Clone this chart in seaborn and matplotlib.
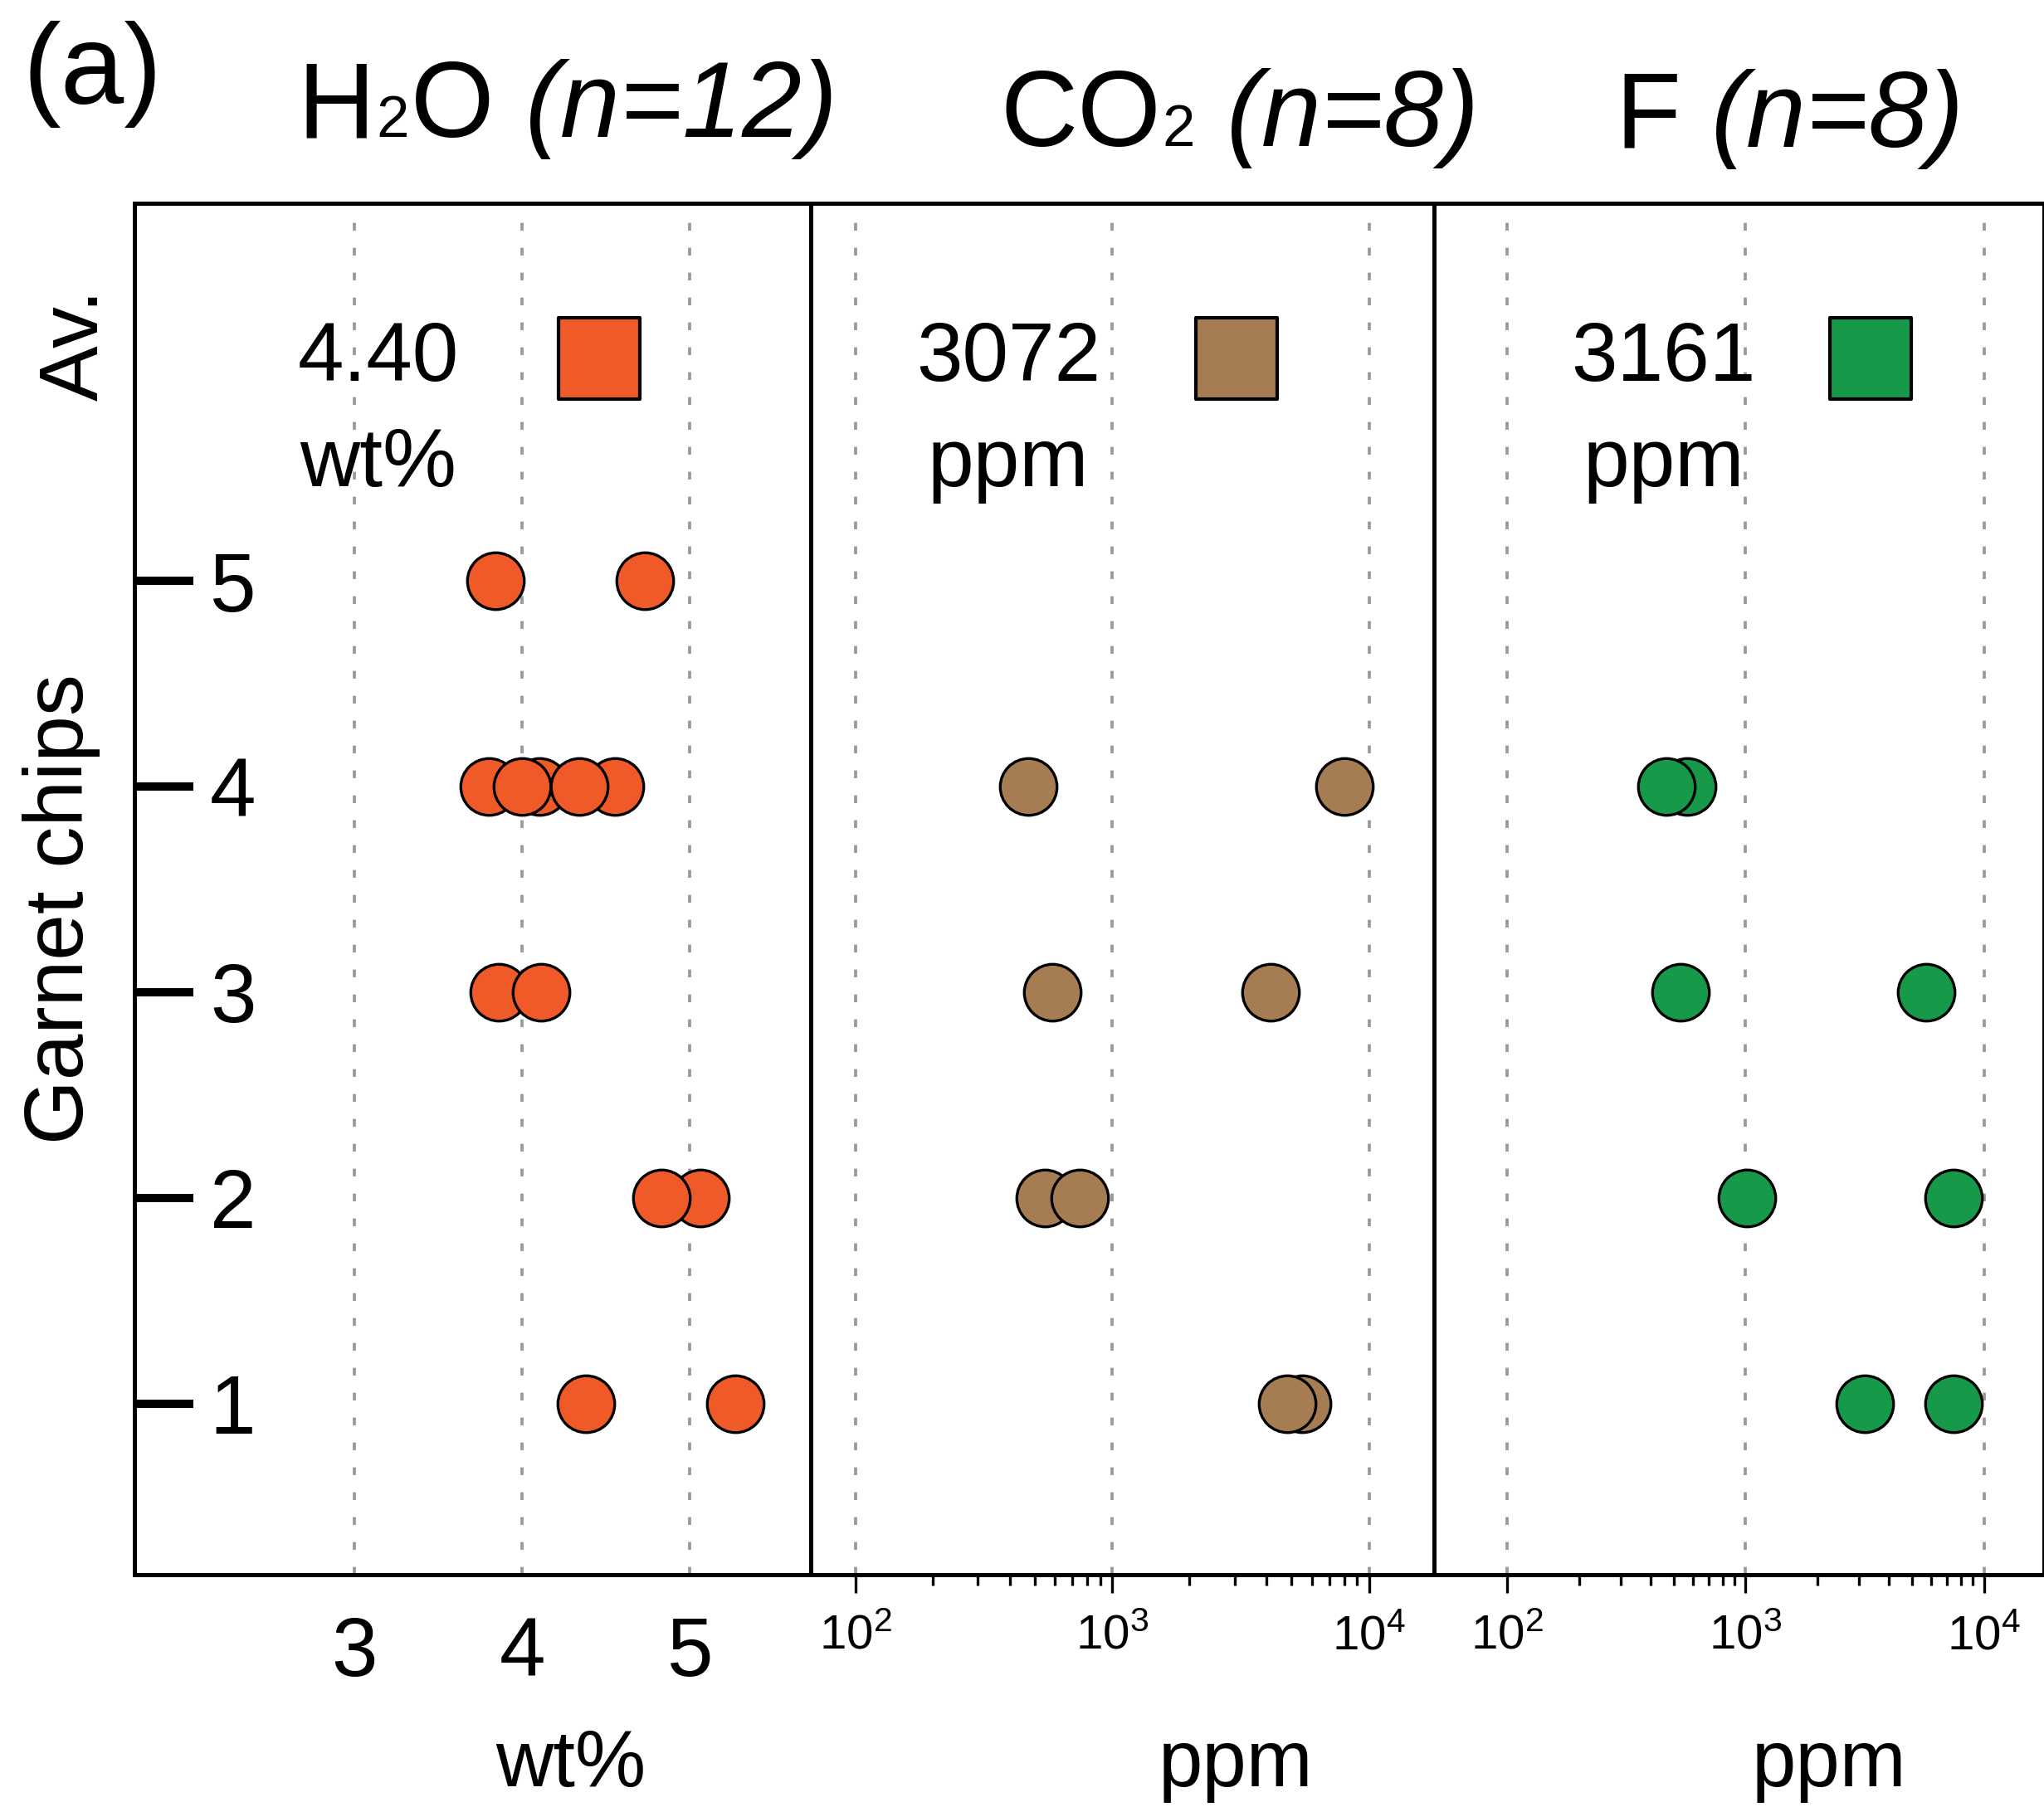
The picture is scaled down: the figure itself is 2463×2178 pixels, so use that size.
import numpy as np
import pandas as pd
import matplotlib
matplotlib.use('Agg')
import matplotlib.pyplot as plt
import seaborn as sns
from matplotlib.ticker import NullFormatter

# Datos: chip de granate y concentracion de cada analisis
h2o_chip = [5, 5, 4, 4, 4, 4, 4, 3, 3, 2, 2, 1, 1]
h2o_wt = [3.84, 4.73, 3.80, 4.10, 4.55, 4.00, 4.34, 3.86, 4.11, 5.06, 4.83, 4.38, 5.27]

co2_chip = [4, 4, 3, 3, 2, 2, 1, 1]
co2_ppm = [471, 8050, 585, 4150, 548, 748, 5505, 4786]

f_chip = [4, 4, 3, 3, 2, 2, 1, 1]
f_ppm = [568, 464, 532, 5700, 1016, 7430, 3162, 7430]

# Fila "Av.": texto del promedio y posicion del cuadrado tal como aparece
promedio_txt = ['4.40', '3072', '3161']
promedio_x = [4.46, 3048, 3357]
unidades = ['wt%', 'ppm', 'ppm']

# Titulos: parte normal, subindice, resto, parte en italica
esp_base = ['H', 'CO', 'F']
esp_sub = ['2', '2', '']
esp_fin = ['O', '', '']
n_txt = ['(n=12)', '(n=8)', '(n=8)']

colores = ['#F05A28', '#A67C52', '#17994A']
chips = [1, 2, 3, 4, 5]
chip_txt = ['1', '2', '3', '4', '5']

log_major = [1e2, 1e3, 1e4]
log_major_txt = [r'$\mathdefault{10^{2}}$', r'$\mathdefault{10^{3}}$', r'$\mathdefault{10^{4}}$']

# Estilo
sns.set_style('white')
plt.rcParams['font.family'] = ['Liberation Sans', 'DejaVu Sans']
plt.rcParams['mathtext.fontset'] = 'custom'
plt.rcParams['mathtext.rm'] = 'Liberation Sans'
plt.rcParams['mathtext.it'] = 'Liberation Sans:italic'
plt.rcParams['mathtext.bf'] = 'Liberation Sans:bold'
plt.rcParams['mathtext.default'] = 'regular'
for k in ['text.color', 'axes.labelcolor', 'xtick.color', 'ytick.color', 'axes.edgecolor']:
    plt.rcParams[k] = 'black'

W, H = 2463, 2178
fig = plt.figure(figsize=(W / 300, H / 300), dpi=300)

AV_Y = 6.08
ylim = (0.169, 6.835)
bottom = 1 - 1898 / H
height = (1898 - 245) / H
paneles = [(162, 977), (977, 1728), (1728, 2463)]
xlims = [(1.688, 5.72), (10 ** 1.8268, 10 ** 4.2533), (10 ** 1.693, 10 ** 4.252)]
datos = [(h2o_wt, h2o_chip), (co2_ppm, co2_chip), (f_ppm, f_chip)]
desplaz_txt = [-64, -66, -60]

minor_log = [m * 10 ** e for e in (2, 3) for m in range(2, 10)]

axes = []
for i, (x0, x1) in enumerate(paneles):
    ax = fig.add_axes([x0 / W, bottom, (x1 - x0) / W, height])
    axes.append(ax)
    vals, filas = datos[i]
    df = pd.DataFrame({'valor': vals, 'chip': filas})

    if i > 0:
        ax.set_xscale('log')

    sns.scatterplot(data=df, x='valor', y='chip', ax=ax, color=colores[i],
                    s=270, edgecolor='black', linewidth=0.8, legend=False, zorder=3)
    sns.scatterplot(x=[promedio_x[i]], y=[AV_Y], ax=ax, marker='s', color=colores[i],
                    s=560, edgecolor='black', linewidth=1.0, legend=False, zorder=3)

    ax.set_xlim(*xlims[i])
    ax.set_ylim(*ylim)
    ax.set_xlabel('')
    ax.set_ylabel('')
    ax.set_axisbelow(True)

    # Texto del promedio
    ax.annotate(promedio_txt[i], xy=(promedio_x[i], AV_Y), xytext=(desplaz_txt[i], -6.5),
                textcoords='offset points', ha='center', va='baseline', fontsize=24)
    ax.annotate(unidades[i], xy=(promedio_x[i], AV_Y), xytext=(desplaz_txt[i], -37),
                textcoords='offset points', ha='center', va='baseline', fontsize=24)

    if i == 0:
        ax.set_xticks([3, 4, 5])
        ax.tick_params(axis='x', length=0, labelsize=24, pad=11.8)
        ax.set_yticks(chips, chip_txt)
        ax.tick_params(axis='y', left=True, direction='in', length=17, width=2.4,
                       labelsize=24, pad=-21.8)
        for lab in ax.get_yticklabels():
            lab.set_horizontalalignment('left')
    else:
        ax.set_xticks(log_major, log_major_txt)
        ax.set_xticks(minor_log, minor=True)
        ax.xaxis.set_minor_formatter(NullFormatter())
        ax.tick_params(axis='x', which='major', bottom=True, direction='out',
                       length=5.3, width=0.8, labelsize=14, pad=6)
        ax.tick_params(axis='x', which='minor', bottom=True, direction='out',
                       length=3, width=0.8)
        ax.set_yticks([])

    ax.grid(axis='x', which='major', color='#999999', linewidth=0.9,
            linestyle=(0, (2.5, 5.5)))
    ax.grid(axis='y', visible=False)

    for lado, sp in ax.spines.items():
        sp.set_color('black')
        sp.set_linewidth(1.2)
    if i < 2:
        ax.spines['right'].set_visible(False)


def texto_en_cadena(x, y, piezas):
    # piezas: (texto, tamano, estilo, separacion en puntos)
    prev = fig.text(x, y, piezas[0][0], fontsize=piezas[0][1], fontstyle=piezas[0][2],
                    ha='left', va='baseline')
    for txt, size, estilo, sep in piezas[1:]:
        if not txt:
            continue
        prev = axes[0].annotate(txt, xy=(1, y), xycoords=(prev, 'figure fraction'),
                                xytext=(sep, 0), textcoords='offset points',
                                ha='left', va='baseline', fontsize=size,
                                fontstyle=estilo, annotation_clip=False)


# Titulos de columnas
fig.text(27 / W, 1 - 125 / H, '(a)', fontsize=33, ha='left', va='baseline')
inicio_x = [358, 1205, 1946]
base_y = [165, 176, 177]
for i in range(3):
    texto_en_cadena(inicio_x[i] / W, 1 - base_y[i] / H,
                    [(esp_base[i], 31, 'normal', 0),
                     (esp_sub[i], 17, 'normal', 0.5),
                     (esp_fin[i], 31, 'normal', 0.5),
                     (n_txt[i], 31, 'italic', 9)])

# Etiquetas de ejes
fig.text(92 / W, 1 - 415 / H, 'Av.', fontsize=24, rotation=90, ha='center', va='center')
fig.text(74 / W, 1 - 1096 / H, 'Garnet chips', fontsize=24, rotation=90,
         ha='center', va='center')
x_lab = [688, 1489, 2204]
for i in range(3):
    fig.text(x_lab[i] / W, 1 - 2153 / H, unidades[i], fontsize=23,
             ha='center', va='baseline')

fig.savefig('out.png', dpi=300)
